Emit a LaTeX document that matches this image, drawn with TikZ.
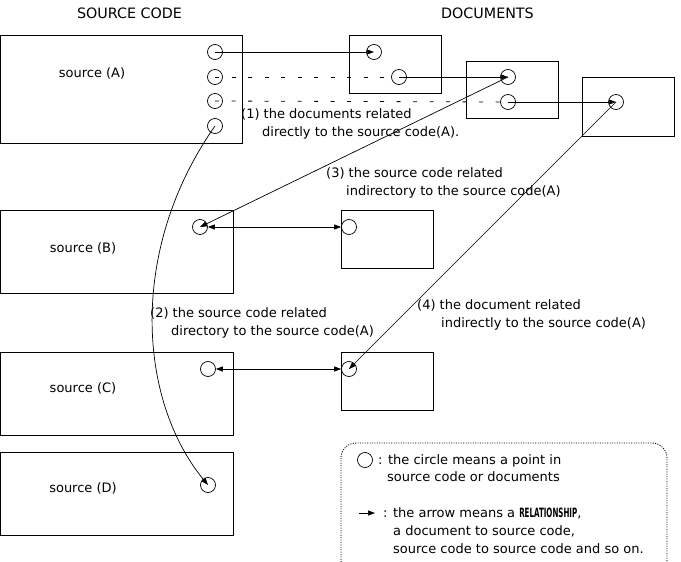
\documentclass[tikz,border=0pt]{standalone}
\usepackage{fontspec}
\setmainfont{DejaVu Sans}
\usetikzlibrary{arrows.meta}
\tikzset{
  box/.style={draw, line width=0.7pt, anchor=north west, inner sep=0pt},
  pt/.style={draw, circle, line width=0.7pt, minimum size=15pt, inner sep=0pt},
  arr/.style={line width=0.7pt, -{Triangle[length=7pt,width=5pt]}},
  darr/.style={line width=0.7pt, {Triangle[length=7pt,width=5pt]}-{Triangle[length=7pt,width=5pt]}},
  dsh/.style={line width=0.8pt, dash pattern=on 4pt off 12.5pt},
  lbl/.style={anchor=base west, inner sep=0pt, align=left, font=\fontsize{13}{18}\selectfont},
  ttl/.style={anchor=base, inner sep=0pt, font=\fontsize{13}{18}\selectfont},
  hdr/.style={anchor=base, inner sep=0pt, font=\fontsize{14.3}{18}\selectfont},
  legend/.style={draw, line width=0.9pt, dash pattern=on 1pt off 1.4pt, rounded corners=15pt}
}
\begin{document}
\begin{tikzpicture}[x=1pt,y=-1pt]
\useasboundingbox (0,0) rectangle (681,562);
\clip (0,0) rectangle (681,562);
% titles
\node[hdr] (t1) at (129.5,19) {SOURCE CODE};
\node[hdr] (t2) at (487.5,19) {DOCUMENTS};
% source boxes
\node[box, minimum width=242pt, minimum height=108pt] (A) at (0,35) {};
\node[ttl] (Al) at (92,77.5) {source (A)};
\node[box, minimum width=233pt, minimum height=83pt] (B) at (0,210) {};
\node[ttl] (Bl) at (83,252.5) {source (B)};
\node[box, minimum width=233pt, minimum height=83pt] (C) at (0,352) {};
\node[ttl] (Cl) at (83,392.5) {source (C)};
\node[box, minimum width=233pt, minimum height=83pt] (D) at (0,452) {};
\node[ttl] (Dl) at (83,492.5) {source (D)};
% document boxes
\node[box, minimum width=92pt, minimum height=58pt] (E1) at (349,35) {};
\node[box, minimum width=92pt, minimum height=57pt] (E2) at (466,61) {};
\node[box, minimum width=92pt, minimum height=59pt] (E3) at (582,77) {};
\node[box, minimum width=92pt, minimum height=58pt] (EB) at (341,210) {};
\node[box, minimum width=92pt, minimum height=58pt] (EC) at (341,352) {};
% points
\node[pt] (a1) at (215,52) {};
\node[pt] (a2) at (215,77) {};
\node[pt] (a3) at (215,101) {};
\node[pt] (a4) at (215,126) {};
\node[pt] (e11) at (374,52) {};
\node[pt] (e12) at (399,77) {};
\node[pt] (e21) at (508,77) {};
\node[pt] (e22) at (508,102) {};
\node[pt] (e31) at (616,102) {};
\node[pt] (b1) at (200,227) {};
\node[pt] (eb) at (349,227) {};
\node[pt] (c1) at (208,369) {};
\node[pt] (ec) at (349,369) {};
\node[pt] (d1) at (208,485) {};
% connectors
\draw[arr] (a1.center) -- (e11.center);
\draw[dsh] (a2.center) -- (e12.west);
\draw[arr] (e12.center) -- (e21.center);
\draw[dsh] (a3.center) -- (e22.west);
\draw[arr] (e22.center) -- (e31.center);
\draw[arr] (e21.center) -- (b1.center);
\draw[arr] (e31.center) -- (ec.center);
\draw[darr] (b1.east) -- (eb.west);
\draw[darr] (c1.east) -- (ec.west);
\draw[arr] (a4.center) .. controls (128,250) and (138,400) .. (d1.center);
% labels (base anchor = baseline of last line)
\node[lbl] (L1) at (241,136.5) {(1) the documents related\\\hspace*{21pt}directly to the source code(A).};
\node[lbl] (L3) at (326,195.5) {(3) the source code related\\\hspace*{20pt}indirectory to the source code(A)};
\node[lbl] (L2) at (150,335.5) {(2) the source code related\\\hspace*{21pt}directory to the source code(A)};
\node[lbl] (L4) at (417,327.5) {(4) the document related\\\hspace*{24pt}indirectly to the source code(A)};
% legend
\draw[legend] (341,443) rectangle (667,575);
\node[pt, minimum size=15pt] (lc) at (365,460) {};
\node[lbl, font=\fontsize{13}{17}\selectfont] (lt1) at (378,481.5) {: the circle means a point in\\\hspace*{9pt}source code or documents};
\coordinate (la0) at (359,513);
\coordinate (la1) at (375,513);
\draw[arr] (la0) -- (la1);
\node[lbl] (lt2) at (383,553.5) {: the arrow means a \resizebox{58pt}{9.5pt}{\bfseries RELATIONSHIP},\\\hspace*{10pt}a document to source code,\\\hspace*{10pt}source code to source code and so on.};
\end{tikzpicture}
\end{document}
